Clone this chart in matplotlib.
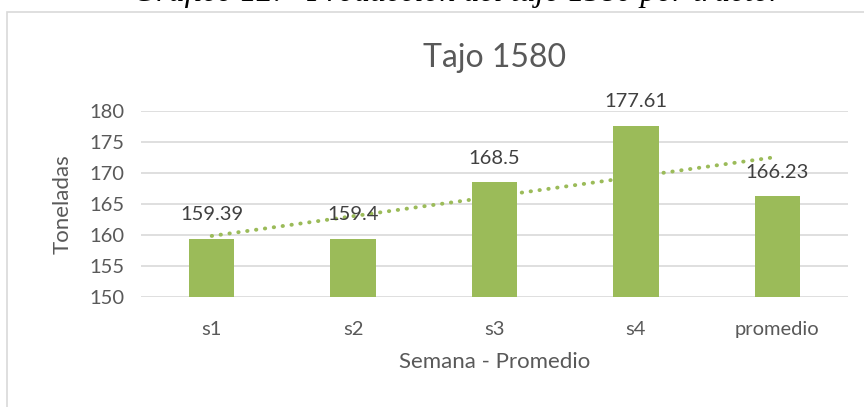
import numpy as np
import matplotlib.pyplot as plt
from matplotlib.patches import Rectangle

categorias = ['s1', 's2', 's3', 's4', 'promedio']
toneladas = [159.39, 159.4, 168.5, 177.61, 166.23]
etiquetas = ['159.39', '159.4', '168.5', '177.61', '166.23']
y_ticks = [150, 155, 160, 165, 170, 175, 180]

verde = '#9BBB59'
gris = '#595959'

plt.rcParams['font.family'] = ['Lato', 'DejaVu Sans']

fig = plt.figure(figsize=(8.64, 4.07), dpi=100)

# caption of the document, cut off at the top edge of the picture
fig.text(0.53, 1 - 1.5 / 407, 'Gráfico 12:   Producción del tajo 1580 por tractor',
         ha='center', va='baseline', fontsize=23, style='italic',
         family=['Liberation Serif', 'DejaVu Serif'], color='black')

# chart area border
fig.patches.append(Rectangle((7 / 864, -0.1), 1.2, 1 - 12 / 407 + 0.1,
                             transform=fig.transFigure, fill=False,
                             edgecolor='#D9D9D9', lw=1.2))

ax = fig.add_axes([141 / 864, 1 - 297 / 407, 707 / 864, 186 / 407])
x = np.arange(len(categorias))
ax.bar(x, toneladas, width=0.32, color=verde, zorder=3)
ax.set_xlim(-0.5, len(categorias) - 0.5)
ax.set_ylim(150, 180)
ax.set_yticks(y_ticks)
ax.set_xticks(x)
ax.set_xticklabels(categorias)

for xi, v, t in zip(x, toneladas, etiquetas):
    ax.annotate(t, (xi, v), xytext=(0, 13.5), textcoords='offset points',
                ha='center', va='baseline', fontsize=14.5, color='#404040', zorder=5)

# linear trendline
coef = np.polyfit(x + 1, toneladas, 1)
ax.plot(x, np.polyval(coef, x + 1), linestyle=(0, (0.1, 2.2)), lw=2.8,
        dash_capstyle='round', color=verde, zorder=4)

ax.grid(axis='y', color='#D9D9D9', lw=1.2, zorder=0)
for s in ax.spines.values():
    s.set_visible(False)
ax.tick_params(length=0, labelsize=14.5, colors=gris)
ax.tick_params(axis='x', pad=17)
ax.tick_params(axis='y', pad=12)

ax.set_title('Tajo 1580', fontsize=23, color=gris, pad=32)
ax.set_xlabel('Semana - Promedio', fontsize=16, color=gris, labelpad=10)
ax.set_ylabel('Toneladas', fontsize=16, color=gris, labelpad=12)

fig.savefig('out.png', dpi=100)
